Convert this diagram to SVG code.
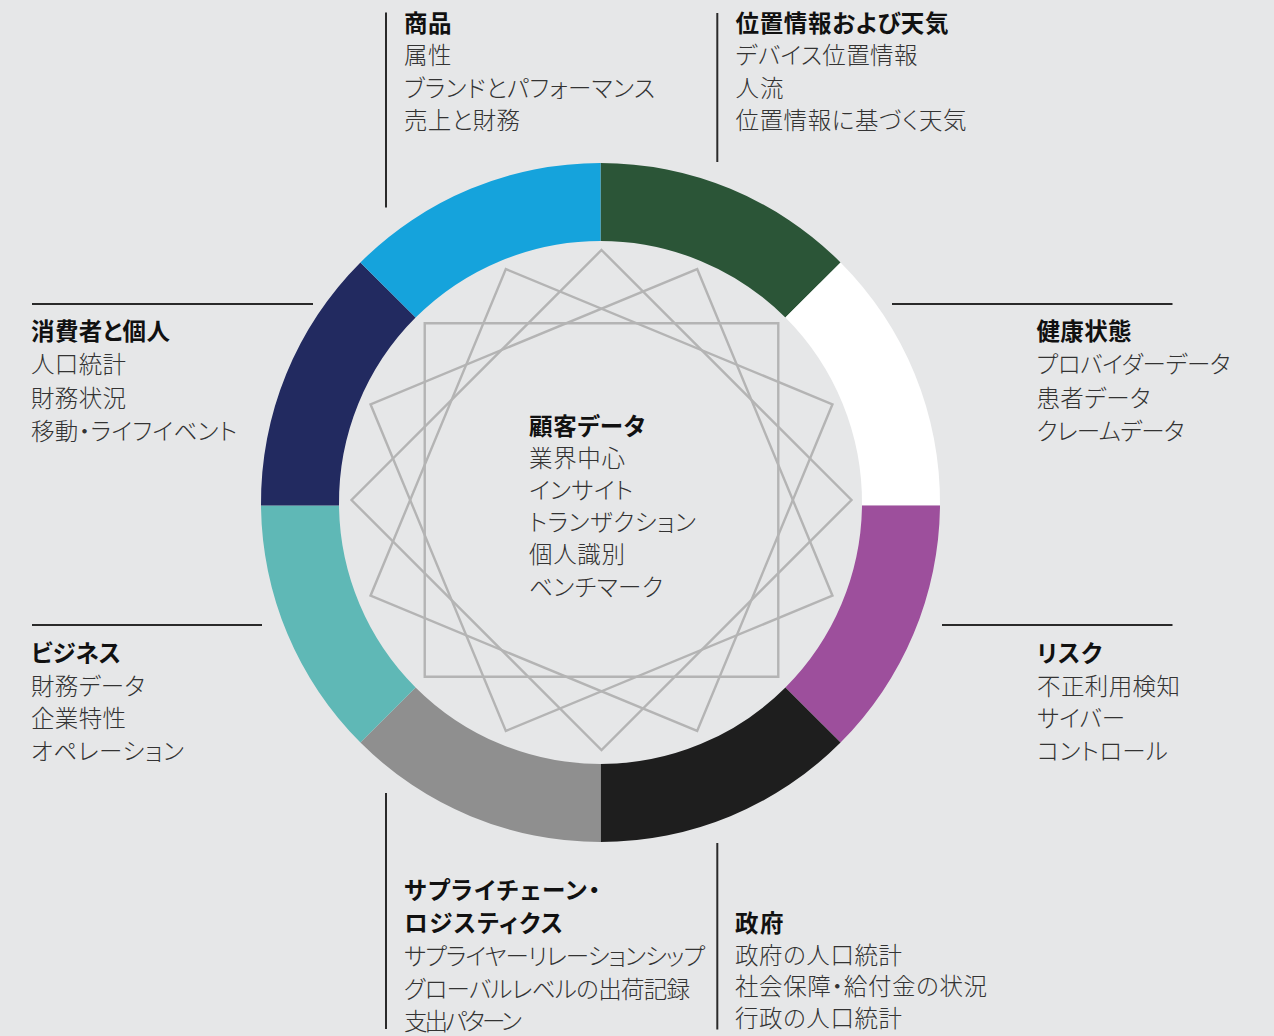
<svg xmlns="http://www.w3.org/2000/svg" width="1274" height="1036" viewBox="0 0 1274 1036">
<style>
text{font-family:"Noto Sans CJK JP","Noto Sans CJK SC",sans-serif;font-size:23.5px;font-feature-settings:"palt"}
.h{font-weight:700;fill:#111}
.b{font-weight:300;fill:#333}
.lead{stroke:#2a2a2a;stroke-width:2;fill:none}
.star{stroke:#b4b4b4;stroke-width:2.4;fill:none}
</style>
<rect x="0" y="0" width="1274" height="1036" fill="#e6e7e8"/>
<g id="ring">
<path id="seg-location" fill="#2b5537" d="M600.5,163 A339.5,339.5 0 0 1 840.56,262.44 L785.41,317.59 A261.5,261.5 0 0 0 600.5,241 Z"/>
<path id="seg-health" fill="#ffffff" d="M840.56,262.44 A339.5,339.5 0 0 1 940,505.5 L862,505.5 A261.5,261.5 0 0 0 785.41,317.59 Z"/>
<path id="seg-risk" fill="#9d4f9c" d="M940,505.5 A339.5,339.5 0 0 1 840.56,742.56 L785.41,687.41 A261.5,261.5 0 0 0 862,505.5 Z"/>
<path id="seg-gov" fill="#1e1e1e" d="M840.56,742.56 A339.5,339.5 0 0 1 600.5,842 L600.5,764 A261.5,261.5 0 0 0 785.41,687.41 Z"/>
<path id="seg-supply" fill="#8f8f8f" d="M600.5,842 A339.5,339.5 0 0 1 360.44,742.56 L415.59,687.41 A261.5,261.5 0 0 0 600.5,764 Z"/>
<path id="seg-business" fill="#5fb8b6" d="M360.44,742.56 A339.5,339.5 0 0 1 261,505.5 L339,505.5 A261.5,261.5 0 0 0 415.59,687.41 Z"/>
<path id="seg-consumer" fill="#222a60" d="M261,505.5 A339.5,339.5 0 0 1 360.44,262.44 L415.59,317.59 A261.5,261.5 0 0 0 339,505.5 Z"/>
<path id="seg-product" fill="#15a3dc" d="M360.44,262.44 A339.5,339.5 0 0 1 600.5,163 L600.5,241 A261.5,261.5 0 0 0 415.59,317.59 Z"/>
</g>
<g id="star">
<polygon class="star" points="601.5,250 851.5,500 601.5,750 351.5,500"/>
<polygon class="star" points="697.17,269.03 832.47,595.67 505.83,730.97 370.53,404.33"/>
<polygon class="star" points="778.28,323.22 778.28,676.78 424.72,676.78 424.72,323.22"/>
<polygon class="star" points="832.47,404.33 697.17,730.97 370.53,595.67 505.83,269.03"/>
</g>
<g id="connectors">
<line class="lead" x1="386" y1="12.5" x2="386" y2="207.5"/>
<line class="lead" x1="717.3" y1="13" x2="717.3" y2="162"/>
<line class="lead" x1="32" y1="304" x2="313" y2="304"/>
<line class="lead" x1="892" y1="304" x2="1172.5" y2="304"/>
<line class="lead" x1="32" y1="625" x2="262" y2="625"/>
<line class="lead" x1="942" y1="625" x2="1172.5" y2="625"/>
<line class="lead" x1="386" y1="793" x2="386" y2="1029"/>
<line class="lead" x1="717.3" y1="843" x2="717.3" y2="1029.5"/>
</g>
<g id="node-product">
<text class="h" x="404" y="31.5" textLength="47.5">商品</text>
<text class="b" x="404" y="64" textLength="47.5">属性</text>
<text class="b" x="404" y="96.5" textLength="251">ブランドとパフォーマンス</text>
<text class="b" x="404" y="129" textLength="116">売上と財務</text>
</g>
<g id="node-location">
<text class="h" x="735.5" y="31.5" textLength="213">位置情報および天気</text>
<text class="b" x="735.5" y="64" textLength="182">デバイス位置情報</text>
<text class="b" x="735.5" y="96.5" textLength="48">人流</text>
<text class="b" x="735.5" y="129" textLength="231">位置情報に基づく天気</text>
</g>
<g id="node-consumer">
<text class="h" x="31" y="340" textLength="139">消費者と個人</text>
<text class="b" x="31" y="373.3" textLength="95">人口統計</text>
<text class="b" x="31" y="406.6" textLength="95">財務状況</text>
<text class="b" x="31" y="440" textLength="206">移動・ライフイベント</text>
</g>
<g id="node-health">
<text class="h" x="1036.5" y="340" textLength="95">健康状態</text>
<text class="b" x="1036.5" y="373.3" textLength="194">プロバイダーデータ</text>
<text class="b" x="1036.5" y="406.6" textLength="114">患者データ</text>
<text class="b" x="1036.5" y="440" textLength="148">クレームデータ</text>
</g>
<g id="node-business">
<text class="h" x="31" y="662" textLength="90">ビジネス</text>
<text class="b" x="31" y="694.7" textLength="114">財務データ</text>
<text class="b" x="31" y="727.4" textLength="95">企業特性</text>
<text class="b" x="31" y="760" textLength="153">オペレーション</text>
</g>
<g id="node-risk">
<text class="h" x="1037" y="662" textLength="65">リスク</text>
<text class="b" x="1037" y="694.7" textLength="143">不正利用検知</text>
<text class="b" x="1037" y="727.4" textLength="88">サイバー</text>
<text class="b" x="1037" y="760" textLength="131">コントロール</text>
</g>
<g id="node-supply">
<text class="h" x="404" y="898.5" textLength="196">サプライチェーン・</text>
<text class="h" x="404" y="931.5" textLength="159">ロジスティクス</text>
<text class="b" x="404" y="964.5" textLength="301">サプライヤーリレーションシップ</text>
<text class="b" x="404" y="997.5" textLength="286">グローバルレベルの出荷記録</text>
<text class="b" x="404" y="1030" textLength="118">支出パターン</text>
</g>
<g id="node-gov">
<text class="h" x="735" y="932" textLength="48.5">政府</text>
<text class="b" x="735" y="963.5" textLength="167">政府の人口統計</text>
<text class="b" x="735" y="995.2" textLength="252">社会保障・給付金の状況</text>
<text class="b" x="735" y="1027" textLength="167">行政の人口統計</text>
</g>
<g id="node-customer">
<text class="h" x="529" y="435" textLength="116">顧客データ</text>
<text class="b" x="529" y="467.1" textLength="96">業界中心</text>
<text class="b" x="529" y="499.2" textLength="104">インサイト</text>
<text class="b" x="529" y="531.3" textLength="167">トランザクション</text>
<text class="b" x="529" y="563.4" textLength="96">個人識別</text>
<text class="b" x="529" y="595.5" textLength="134">ベンチマーク</text>
</g>
</svg>
